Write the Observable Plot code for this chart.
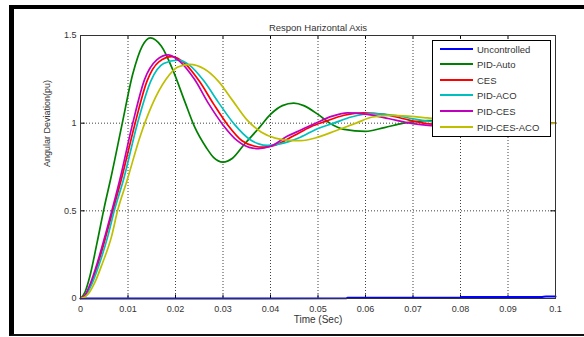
<!DOCTYPE html>
<html><head><meta charset="utf-8">
<script src="https://cdn.jsdelivr.net/npm/d3@7"></script>
<script src="https://cdn.jsdelivr.net/npm/@observablehq/plot@0.6"></script>
<style>
body{margin:0;background:#fff;}
#wrap{position:relative;width:584px;height:337px;overflow:hidden;font-family:"Liberation Sans",Arial,sans-serif;}
#border{position:absolute;left:9px;top:5px;width:600px;height:331px;border-top:4px solid #000;border-left:5px solid #000;border-bottom:2px solid #111;box-sizing:border-box;pointer-events:none;}
#legend{position:absolute;left:432px;top:40px;width:119px;height:97px;background:#fff;border:1px solid #000;box-sizing:border-box;font-size:9.5px;color:#333;}
.row{position:absolute;left:0;height:14px;display:flex;align-items:center;white-space:nowrap;}
.sw{width:33px;height:2px;margin-left:7px;margin-right:4px;}
</style></head><body><div id="wrap"></div>
<script>
const title = "Respon Harizontal Axis";
const xLabel = "Time (Sec)";
const yLabel = "Angular Deviation(pu)";
const xTicks = [0, 0.01, 0.02, 0.03, 0.04, 0.05, 0.06, 0.07, 0.08, 0.09, 0.1];
const yTicks = [0, 0.5, 1, 1.5];
const seriesNames = ["Uncontrolled", "PID-Auto", "CES", "PID-ACO", "PID-CES", "PID-CES-ACO"];
const seriesColors = ["#0000ff", "#008000", "#ff0000", "#00bfbf", "#bf00bf", "#bfbf00"];

const uncontrolled = [[0,0],[0.056,0.001],[0.0562,0.004],[0.08,0.005],[0.0802,0.008],[0.097,0.009],[0.098,0.012],[0.1,0.012]];
const pidAuto = [[0,0],[0.001,0.04],[0.002,0.13],[0.0035,0.32],[0.005,0.52],[0.0065,0.7],[0.0088,1.0],[0.011,1.28],[0.013,1.44],[0.0147,1.487],[0.017,1.44],[0.0195,1.3],[0.022,1.12],[0.024,0.98],[0.0265,0.86],[0.028,0.805],[0.030,0.778],[0.032,0.8],[0.0345,0.88],[0.0375,0.97],[0.040,1.05],[0.0425,1.1],[0.0449,1.114],[0.047,1.1],[0.050,1.05],[0.0525,1.0],[0.0555,0.965],[0.060,0.953],[0.064,0.975],[0.068,1.0],[0.073,1.015],[0.08,1.015],[0.09,1.0],[0.1,1.0]];
const ces = [[0,0],[0.001,0.02],[0.002,0.07],[0.0037,0.2],[0.0055,0.37],[0.0068,0.5],[0.0086,0.68],[0.0115,1.0],[0.014,1.24],[0.0165,1.35],[0.0193,1.38],[0.022,1.34],[0.025,1.24],[0.028,1.11],[0.031,0.99],[0.034,0.9],[0.0365,0.87],[0.0386,0.863],[0.041,0.875],[0.045,0.93],[0.0485,0.98],[0.0516,1.01],[0.0555,1.045],[0.0596,1.059],[0.064,1.05],[0.068,1.025],[0.073,0.997],[0.079,0.985],[0.086,0.99],[0.093,1.0],[0.1,1.002]];
const pidAco = [[0,0],[0.001,0.015],[0.002,0.06],[0.004,0.2],[0.0058,0.36],[0.0071,0.5],[0.009,0.673],[0.012,1.0],[0.0148,1.24],[0.0175,1.34],[0.0205,1.36],[0.023,1.33],[0.026,1.24],[0.029,1.12],[0.0325,0.99],[0.0355,0.91],[0.0375,0.882],[0.0393,0.873],[0.042,0.882],[0.0463,0.92],[0.050,0.97],[0.0533,1.0],[0.057,1.035],[0.0614,1.054],[0.066,1.045],[0.070,1.025],[0.075,1.005],[0.081,0.99],[0.088,0.99],[0.095,0.997],[0.1,1.0]];
const pidCes = [[0,0],[0.001,0.02],[0.002,0.08],[0.0035,0.2],[0.0053,0.37],[0.0066,0.5],[0.0083,0.68],[0.011,1.0],[0.0135,1.25],[0.016,1.36],[0.0185,1.39],[0.021,1.35],[0.024,1.25],[0.027,1.11],[0.030,0.99],[0.033,0.9],[0.0355,0.862],[0.0375,0.855],[0.040,0.868],[0.0435,0.925],[0.0465,0.962],[0.0495,1.0],[0.053,1.04],[0.0562,1.059],[0.060,1.052],[0.065,1.025],[0.070,0.997],[0.076,0.983],[0.083,0.985],[0.09,0.995],[0.1,1.0]];
const pidCesAco = [[0,0],[0.001,0.01],[0.002,0.04],[0.003,0.09],[0.0046,0.2],[0.0065,0.35],[0.0078,0.5],[0.0098,0.673],[0.0125,0.92],[0.015,1.1],[0.018,1.25],[0.0205,1.32],[0.023,1.335],[0.026,1.31],[0.029,1.24],[0.032,1.13],[0.035,1.02],[0.038,0.95],[0.041,0.915],[0.0435,0.903],[0.0463,0.90],[0.050,0.92],[0.054,0.96],[0.058,1.0],[0.0615,1.035],[0.0653,1.044],[0.069,1.04],[0.073,1.03],[0.078,1.015],[0.085,1.0],[0.092,0.995],[0.1,1.0]];

const allSeries = [uncontrolled, pidAuto, ces, pidAco, pidCes, pidCesAco];

const font = "'Liberation Sans', Arial, sans-serif";
const lineMarks = allSeries.map((s, i) => Plot.line(s, {x: d => d[0], y: d => d[1], stroke: seriesColors[i], strokeWidth: i === 0 ? 2 : 1.7, curve: "monotone-x"}));

const chart = Plot.plot({
  width: 584, height: 337,
  marginLeft: 80, marginRight: 29, marginTop: 35, marginBottom: 39,
  style: {fontFamily: font, fontSize: "9px", background: "transparent", color: "#333", overflow: "visible"},
  x: {domain: [0, 0.1]},
  y: {domain: [0, 1.5]},
  marks: [
    Plot.gridX(xTicks, {stroke: "#000", strokeOpacity: 0.75, strokeDasharray: "1,2"}),
    Plot.gridY(yTicks, {stroke: "#000", strokeOpacity: 0.75, strokeDasharray: "1,2"}),
    Plot.ruleX(xTicks, {x: d => d, y1: 0, y2: 0.02, stroke: "#000"}),
    Plot.ruleX(xTicks, {x: d => d, y1: 1.48, y2: 1.5, stroke: "#000"}),
    Plot.ruleY(yTicks, {y: d => d, x1: 0, x2: 0.001, stroke: "#000"}),
    Plot.ruleY(yTicks, {y: d => d, x1: 0.099, x2: 0.1, stroke: "#000"}),
    ...lineMarks,
    Plot.frame({stroke: "#333"}),
    Plot.axisX(xTicks, {tickSize: 0, tickPadding: 7, tickFormat: d => String(d), label: null}),
    Plot.axisY(yTicks, {tickSize: 0, tickPadding: 4, tickFormat: d => String(d), label: null}),
    Plot.text([title], {frameAnchor: "top", dy: -11, fontSize: 9.5, fill: "#333"}),
    Plot.text([xLabel], {frameAnchor: "bottom", dy: 24, fontSize: 10, fill: "#333"}),
    Plot.text([yLabel], {frameAnchor: "left", dx: -33, rotate: -90, fontSize: 9, fill: "#333"})
  ]
});

const wrap = document.getElementById("wrap");
wrap.appendChild(chart);
const border = document.createElement("div");
border.id = "border";
wrap.appendChild(border);
const legend = document.createElement("div");
legend.id = "legend";
const rowCenters = [9, 24, 40, 55, 71, 87];
seriesNames.forEach((name, i) => {
  const row = document.createElement("div");
  row.className = "row";
  row.style.top = (rowCenters[i] - 8) + "px";
  const sw = document.createElement("div");
  sw.className = "sw";
  sw.style.background = seriesColors[i];
  const tx = document.createElement("span");
  tx.textContent = name;
  row.appendChild(sw);
  row.appendChild(tx);
  legend.appendChild(row);
});
wrap.appendChild(legend);
</script>
</body></html>
